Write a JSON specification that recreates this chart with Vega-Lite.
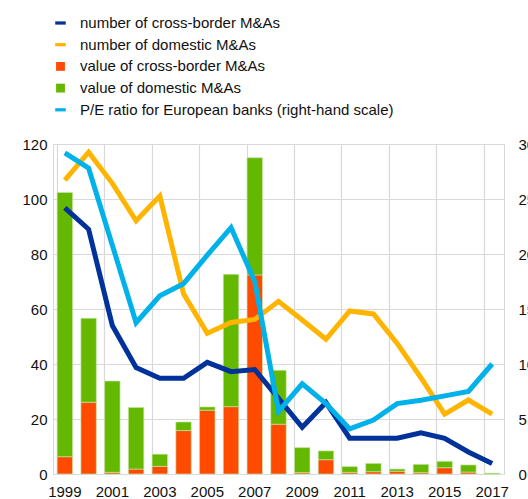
{
  "$schema": "https://vega.github.io/schema/vega-lite/v6.json",
  "autosize": "none",
  "width": 451,
  "height": 330,
  "padding": {"left": 53, "top": 144, "right": 24, "bottom": 25},
  "background": "white",
  "config": {
    "font": "Liberation Sans",
    "view": {"stroke": "#d9d9d9", "strokeWidth": 1},
    "axis": {"labelFont": "Liberation Sans", "labelFontSize": 15, "labelColor": "#111", "ticks": false, "domain": false, "gridColor": "#d9d9d9", "gridWidth": 1.2, "title": null},
    "legend": {"labelFont": "Liberation Sans", "labelFontSize": 15, "labelColor": "#111", "labelLimit": 500}
  },
  "data": {"values": [
    {"year": "1999", "value of cross-border M&As": 6.3, "value of domestic M&As": 96.1, "number of cross-border M&As": 96.8, "number of domestic M&As": 106.9, "P/E ratio for European banks (right-hand scale)": 29.2},
    {"year": "2000", "value of cross-border M&As": 26.1, "value of domestic M&As": 30.5, "number of cross-border M&As": 89, "number of domestic M&As": 117, "P/E ratio for European banks (right-hand scale)": 27.8},
    {"year": "2001", "value of cross-border M&As": 0.6, "value of domestic M&As": 33.2, "number of cross-border M&As": 54, "number of domestic M&As": 105.7, "P/E ratio for European banks (right-hand scale)": 20.8},
    {"year": "2002", "value of cross-border M&As": 1.8, "value of domestic M&As": 22.4, "number of cross-border M&As": 38.7, "number of domestic M&As": 92.1, "P/E ratio for European banks (right-hand scale)": 13.75},
    {"year": "2003", "value of cross-border M&As": 2.8, "value of domestic M&As": 4.4, "number of cross-border M&As": 34.8, "number of domestic M&As": 101.1, "P/E ratio for European banks (right-hand scale)": 16.2},
    {"year": "2004", "value of cross-border M&As": 15.8, "value of domestic M&As": 3.1, "number of cross-border M&As": 34.8, "number of domestic M&As": 65.5, "P/E ratio for European banks (right-hand scale)": 17.3},
    {"year": "2005", "value of cross-border M&As": 23.2, "value of domestic M&As": 1.2, "number of cross-border M&As": 40.6, "number of domestic M&As": 51.2, "P/E ratio for European banks (right-hand scale)": 19.9},
    {"year": "2006", "value of cross-border M&As": 24.5, "value of domestic M&As": 48.1, "number of cross-border M&As": 37.2, "number of domestic M&As": 55.1, "P/E ratio for European banks (right-hand scale)": 22.4},
    {"year": "2007", "value of cross-border M&As": 72.4, "value of domestic M&As": 42.6, "number of cross-border M&As": 38, "number of domestic M&As": 56.2, "P/E ratio for European banks (right-hand scale)": 17.5},
    {"year": "2008", "value of cross-border M&As": 18.1, "value of domestic M&As": 19.6, "number of cross-border M&As": 27.5, "number of domestic M&As": 62.8, "P/E ratio for European banks (right-hand scale)": 5.7},
    {"year": "2009", "value of cross-border M&As": 0.5, "value of domestic M&As": 9.1, "number of cross-border M&As": 17, "number of domestic M&As": 56, "P/E ratio for European banks (right-hand scale)": 8.2},
    {"year": "2010", "value of cross-border M&As": 5.2, "value of domestic M&As": 3.2, "number of cross-border M&As": 26, "number of domestic M&As": 49, "P/E ratio for European banks (right-hand scale)": 6.4},
    {"year": "2011", "value of cross-border M&As": 0.6, "value of domestic M&As": 2.1, "number of cross-border M&As": 13, "number of domestic M&As": 59.3, "P/E ratio for European banks (right-hand scale)": 4.1},
    {"year": "2012", "value of cross-border M&As": 0.85, "value of domestic M&As": 3.0, "number of cross-border M&As": 13, "number of domestic M&As": 58.2, "P/E ratio for European banks (right-hand scale)": 4.9},
    {"year": "2013", "value of cross-border M&As": 1.0, "value of domestic M&As": 0.8, "number of cross-border M&As": 13, "number of domestic M&As": 47.5, "P/E ratio for European banks (right-hand scale)": 6.4},
    {"year": "2014", "value of cross-border M&As": 0.5, "value of domestic M&As": 3.0, "number of cross-border M&As": 15, "number of domestic M&As": 35, "P/E ratio for European banks (right-hand scale)": 6.7},
    {"year": "2015", "value of cross-border M&As": 2.3, "value of domestic M&As": 2.3, "number of cross-border M&As": 13, "number of domestic M&As": 21.8, "P/E ratio for European banks (right-hand scale)": 7.1},
    {"year": "2016", "value of cross-border M&As": 0.7, "value of domestic M&As": 2.6, "number of cross-border M&As": 8, "number of domestic M&As": 26.9, "P/E ratio for European banks (right-hand scale)": 7.5},
    {"year": "2017", "value of cross-border M&As": 0.0, "value of domestic M&As": 0.3, "number of cross-border M&As": 3.8, "number of domestic M&As": 21.8, "P/E ratio for European banks (right-hand scale)": 10.0}
  ]},
  "resolve": {"scale": {"y": "independent"}, "axis": {"x": "independent", "y": "independent"}},
  "layer": [
    {
      "transform": [{"fold": ["value of cross-border M&As", "value of domestic M&As"], "as": ["series", "val"]}],
      "mark": {"type": "bar", "stroke": "#c8e6a8", "strokeWidth": 0.8, "strokeOpacity": 0.8},
      "encoding": {
        "x": {"field": "year", "type": "ordinal", "scale": {"paddingInner": 0.35, "paddingOuter": 0.175},
              "axis": {"orient": "bottom", "grid": true, "labels": false, "bandPosition": 0, "values": ["1999","2001","2003","2005","2007","2009","2011","2013","2015","2017"]}},
        "y": {"field": "val", "type": "quantitative", "stack": "zero", "scale": {"domain": [0, 120], "nice": false},
              "axis": {"orient": "left", "values": [0,20,40,60,80,100,120], "grid": true, "labelPadding": 6}},
        "order": {"field": "series", "sort": "ascending"},
        "color": {"field": "series", "type": "nominal",
          "scale": {"domain": ["number of cross-border M&As", "number of domestic M&As", "value of cross-border M&As", "value of domestic M&As", "P/E ratio for European banks (right-hand scale)"],
                    "range": ["#003299", "#ffb400", "#ff4b00", "#65b800", "#00b1ea"]},
          "legend": {"orient": "none", "legendX": -1, "legendY": -129.5, "title": null, "symbolSize": 289, "symbolStrokeWidth": 0, "labelOffset": 11, "rowPadding": 4.7, "labelLimit": 500, "symbolOpacity": 1}
        }
      }
    },
    {
      "transform": [{"fold": ["number of cross-border M&As", "number of domestic M&As"], "as": ["series", "val"]}],
      "mark": {"type": "line", "strokeWidth": 5, "strokeJoin": "miter"},
      "encoding": {
        "x": {"field": "year", "type": "ordinal",
              "axis": {"orient": "bottom", "grid": false, "labelAngle": 0, "labelPadding": 10, "values": ["1999","2001","2003","2005","2007","2009","2011","2013","2015","2017"]}},
        "y": {"field": "val", "type": "quantitative", "scale": {"domain": [0, 120], "nice": false}, "axis": null},
        "color": {"field": "series", "type": "nominal"}
      }
    },
    {
      "transform": [{"fold": ["P/E ratio for European banks (right-hand scale)"], "as": ["series", "val"]}],
      "mark": {"type": "line", "strokeWidth": 5, "strokeJoin": "miter"},
      "encoding": {
        "x": {"field": "year", "type": "ordinal", "axis": null},
        "y": {"field": "val", "type": "quantitative", "scale": {"domain": [0, 30], "nice": false},
              "axis": {"orient": "right", "values": [0,5,10,15,20,25,30], "grid": false, "labelPadding": 14}},
        "color": {"field": "series", "type": "nominal"}
      }
    },
    {
      "transform": [{"fold": ["P/E ratio for European banks (right-hand scale)"], "as": ["series", "val"]}, {"filter": "datum.val < -1000"}],
      "mark": {"type": "point", "filled": true, "opacity": 1},
      "encoding": {
        "x": {"field": "year", "type": "ordinal", "axis": null},
        "y": {"field": "val", "type": "quantitative", "scale": {"domain": [0, 30], "nice": false}, "axis": null},
        "color": {"field": "series", "type": "nominal"},
        "shape": {"field": "series", "type": "nominal",
          "scale": {"domain": ["number of cross-border M&As", "number of domestic M&As", "value of cross-border M&As", "value of domestic M&As", "P/E ratio for European banks (right-hand scale)"],
                    "range": ["M-0.62,-0.19H0.62V0.19H-0.62Z", "M-0.62,-0.19H0.62V0.19H-0.62Z", "M-0.52,-0.52H0.52V0.52H-0.52Z", "M-0.52,-0.52H0.52V0.52H-0.52Z", "M-0.62,-0.19H0.62V0.19H-0.62Z"]},
          "legend": {"orient": "none", "legendX": -1, "legendY": -129.5, "title": null, "symbolSize": 289, "symbolStrokeWidth": 0, "labelOffset": 11, "rowPadding": 4.7, "labelLimit": 500, "symbolOpacity": 1}
        }
      }
    }
  ]
}
